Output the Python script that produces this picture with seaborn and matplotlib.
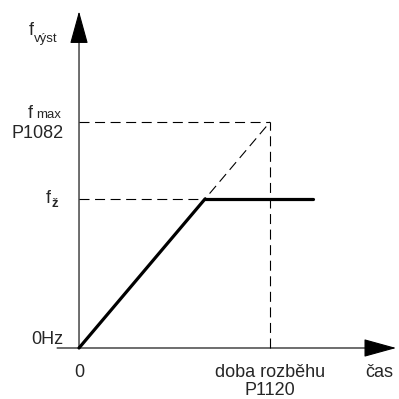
import matplotlib
matplotlib.use("Agg")
import matplotlib.pyplot as plt
import pandas as pd
import seaborn as sns

sns.set_style("white")
plt.rcParams['font.family'] = ['Liberation Sans', 'DejaVu Sans']

# values in relative units (t: fraction of ramp-up time, f: fraction of f_max)
t_ramp = 1.0          # doba rozběhu P1120
f_max = 1.0           # P1082
f_z = 0.66            # žádaná frekvence
t_end = 1.225
ramp_t = [0.0, f_z]
ramp_f = [0.0, f_z]
hold_t = [f_z, t_end]
hold_f = [f_z, f_z]
ref_t = [0.0, t_ramp]
ref_f = [0.0, f_max]

x_axis = (-0.115, 1.66)
y_axis = (0.0, 1.49)

fig = plt.figure(figsize=(3.99, 3.99), dpi=100)
ax = fig.add_axes([0, 0, 1, 1])
ax.set_xlim(-0.4136, 1.675)
ax.set_ylim(-0.2257, 1.54)
ax.axis('off')

dash = dict(color='black', lw=0.8, dashes=(9, 5))
# reference lines
ax.plot([0, t_ramp], [f_max, f_max], **dash)
ax.plot([t_ramp, t_ramp], [0, f_max], **dash)
ax.plot([0, f_z], [f_z, f_z], **dash)
sns.lineplot(x=ref_t, y=ref_f, ax=ax, color='black', lw=0.8, dashes=False).lines[-1].set_dashes((9, 5))

# output frequency
sns.lineplot(x=ramp_t, y=ramp_f, ax=ax, color='black', lw=2.3)
sns.lineplot(x=hold_t, y=hold_f, ax=ax, color='black', lw=2.3)

# axes with arrows
arrow = dict(arrowstyle='-|>,head_length=2.9,head_width=0.8', mutation_scale=7.2,
             color='black', lw=0.8, shrinkA=0, shrinkB=0)
ax.annotate('', xy=(x_axis[1], 0), xytext=(x_axis[0], 0), arrowprops=arrow)
ax.annotate('', xy=(0, y_axis[1]), xytext=(0, y_axis[0]), arrowprops=arrow)

fs = 13
sub = 9.5
# y labels
ax.text(-0.238, 1.385, 'f', fontsize=fs, ha='right', va='baseline')
ax.text(-0.236, 1.355, 'výst', fontsize=sub, ha='left', va='baseline')
ax.text(-0.24, f_max + 0.02, 'f', fontsize=fs, ha='right', va='baseline')
ax.text(-0.225, f_max + 0.02, 'max', fontsize=sub, ha='left', va='baseline')
ax.text(-0.083, f_max - 0.07, 'P1082', fontsize=fs, ha='right', va='baseline')
ax.text(-0.148, f_z - 0.018, 'f', fontsize=fs, ha='right', va='baseline')
ax.text(-0.145, f_z - 0.036, 'ž', fontsize=sub, ha='left', va='baseline', fontweight='bold')
ax.text(-0.083, 0.018, '0Hz', fontsize=fs, ha='right', va='baseline')

# x labels
ax.text(0, -0.128, '0', fontsize=fs, ha='center', va='baseline')
ax.text(t_ramp, -0.128, 'doba rozběhu', fontsize=fs, ha='center', va='baseline')
ax.text(t_ramp, -0.208, 'P1120', fontsize=fs, ha='center', va='baseline')
ax.text(1.57, -0.128, 'čas', fontsize=fs, ha='center', va='baseline')

fig.savefig('out.png', dpi=100)
